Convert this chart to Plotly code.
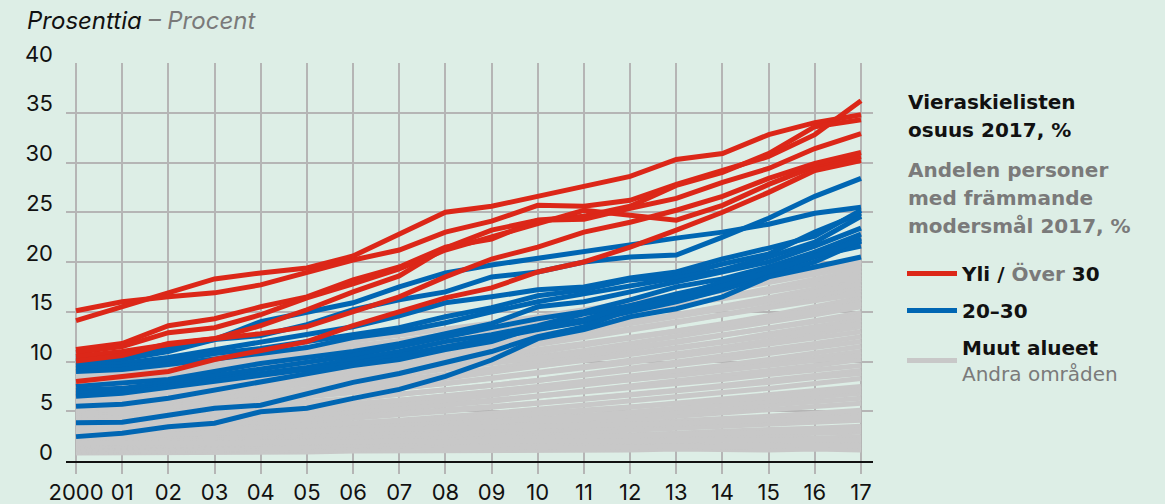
import plotly.graph_objects as go

years = list(range(2000, 2018))
year_labels = ["2000"] + [f"{y % 100:02d}" for y in years[1:]]
y_ticks = [0, 5, 10, 15, 20, 25, 30, 35, 40]

# Over 30 % (red)
red_lines = [
    [14.1, 15.5, 16.9, 18.3, 18.9, 19.4, 20.6, 22.8, 25.0, 25.6, 26.6, 27.7, 28.6, 30.3, 30.9, 32.8, 34.0, 34.8],
    [15.1, 16.0, 16.5, 16.9, 17.7, 19.0, 20.2, 21.2, 23.0, 24.1, 25.7, 25.6, 26.2, 27.8, 29.2, 30.6, 32.8, 36.2],
    [11.2, 11.8, 13.6, 14.3, 15.5, 16.5, 18.2, 19.5, 21.5, 22.3, 24.2, 24.6, 25.6, 27.7, 29.0, 30.9, 33.6, 34.3],
    [10.9, 11.5, 12.9, 13.4, 14.7, 16.4, 17.8, 19.3, 21.2, 22.5, 23.9, 25.2, 24.7, 24.2, 25.7, 27.8, 29.6, 30.6],
    [10.5, 11.0, 11.7, 12.3, 13.6, 15.2, 17.0, 18.6, 21.4, 23.2, 24.2, 24.3, 25.4, 26.4, 28.0, 29.4, 31.4, 32.9],
    [10.05, 10.6, 11.8, 12.3, 12.8, 13.5, 15.0, 16.5, 18.5, 20.3, 21.5, 23.0, 24.0, 25.2, 26.6, 28.4, 29.9, 31.0],
    [8.0, 8.5, 9.0, 10.2, 11.1, 12.0, 13.6, 15.0, 16.4, 17.4, 19.0, 20.0, 21.5, 23.2, 25.0, 27.0, 29.2, 30.2],
]

# 20-30 % (blue)
blue_lines = [
    [10.3, 10.5, 11.4, 12.2, 14.0, 15.0, 15.9, 17.5, 18.9, 19.7, 20.4, 21.0, 21.8, 22.4, 23.0, 23.8, 24.9, 25.5],
    [9.9, 10.2, 11.0, 12.2, 12.6, 13.7, 15.2, 16.2, 17.0, 18.5, 19.0, 20.0, 20.5, 20.7, 22.5, 24.4, 26.6, 28.4],
    [9.6, 9.8, 10.4, 11.2, 12.0, 12.8, 13.5, 14.6, 15.9, 16.5, 17.2, 17.5, 18.4, 19.0, 20.3, 21.4, 22.6, 25.2],
    [9.3, 9.5, 10.0, 10.8, 11.3, 12.0, 12.8, 13.4, 14.5, 15.4, 16.6, 17.2, 18.2, 18.6, 19.8, 20.8, 23.0, 24.9],
    [9.0, 9.2, 9.7, 10.2, 10.8, 11.4, 12.4, 13.0, 13.9, 15.0, 16.0, 16.8, 17.6, 18.3, 19.2, 20.5, 22.0, 24.6],
    [7.5, 7.8, 8.2, 9.0, 9.8, 10.4, 11.0, 11.8, 12.8, 13.8, 15.5, 16.0, 17.0, 18.0, 19.0, 20.0, 21.6, 23.4],
    [7.1, 7.3, 7.9, 8.6, 9.3, 9.9, 10.6, 11.5, 12.5, 13.4, 14.3, 15.0, 16.2, 17.5, 18.3, 19.5, 21.0, 22.8],
    [6.8, 7.0, 7.6, 8.2, 8.9, 9.4, 10.2, 11.0, 12.0, 12.7, 13.6, 14.8, 15.6, 16.8, 17.8, 19.0, 20.5, 22.4],
    [6.5, 6.8, 7.4, 8.0, 8.6, 9.1, 9.8, 10.6, 11.5, 12.3, 13.2, 14.0, 15.0, 16.0, 17.2, 18.6, 20.0, 22.1],
    [5.5, 5.7, 6.3, 7.1, 8.0, 8.8, 9.6, 10.2, 11.2, 12.0, 13.5, 14.2, 15.6, 16.5, 18.0, 19.3, 20.6, 21.6],
    [3.85, 3.9, 4.6, 5.3, 5.6, 6.8, 7.9, 8.8, 9.9, 11.0, 12.5, 13.5, 15.2, 16.3, 17.6, 19.0, 20.6, 22.2],
    [2.45, 2.8, 3.45, 3.8, 4.95, 5.3, 6.3, 7.2, 8.5, 10.15, 12.3, 13.2, 14.5, 15.3, 16.5, 18.5, 19.5, 20.5],
]

# Other areas (grey)
grey_lines = [
    [0.8, 0.8, 0.9, 0.8, 0.9, 0.9, 1.0, 1.0, 1.0, 1.0, 1.1, 1.0, 1.1, 1.2, 1.1, 1.1, 1.2, 1.1],
    [0.9, 1.0, 1.0, 1.1, 1.1, 1.2, 1.2, 1.3, 1.3, 1.4, 1.4, 1.5, 1.5, 1.6, 1.6, 1.7, 1.7, 1.8],
    [1.0, 1.0, 1.1, 1.1, 1.2, 1.1, 1.2, 1.3, 1.2, 1.3, 1.4, 1.3, 1.4, 1.5, 1.4, 1.5, 1.6, 1.5],
    [1.1, 1.1, 1.2, 1.2, 1.3, 1.4, 1.4, 1.5, 1.6, 1.6, 1.8, 1.8, 1.9, 2.0, 2.1, 2.2, 2.3, 2.4],
    [1.2, 1.3, 1.3, 1.4, 1.5, 1.5, 1.6, 1.7, 1.8, 1.9, 2.0, 2.1, 2.3, 2.4, 2.5, 2.6, 2.8, 2.9],
    [1.3, 1.4, 1.4, 1.5, 1.6, 1.7, 1.8, 1.9, 2.0, 2.2, 2.3, 2.5, 2.6, 2.8, 3.0, 3.1, 3.3, 3.5],
    [1.4, 1.5, 1.6, 1.6, 1.8, 1.9, 2.0, 2.2, 2.3, 2.5, 2.7, 2.9, 3.1, 3.3, 3.5, 3.7, 3.9, 4.1],
    [1.5, 1.5, 1.6, 1.7, 1.7, 1.8, 1.9, 2.0, 2.1, 2.2, 2.3, 2.4, 2.5, 2.6, 2.7, 2.9, 3.0, 3.1],
    [1.6, 1.7, 1.8, 1.9, 2.0, 2.1, 2.3, 2.4, 2.6, 2.8, 3.0, 3.2, 3.5, 3.7, 4.0, 4.2, 4.5, 4.8],
    [1.7, 1.8, 1.9, 2.0, 2.1, 2.3, 2.4, 2.6, 2.8, 3.0, 3.3, 3.5, 3.8, 4.0, 4.3, 4.5, 4.8, 5.1],
    [1.9, 2.0, 2.1, 2.2, 2.4, 2.5, 2.7, 2.9, 3.1, 3.4, 3.7, 3.9, 4.2, 4.5, 4.8, 5.1, 5.5, 5.8],
    [2.0, 2.1, 2.2, 2.4, 2.5, 2.7, 2.9, 3.1, 3.4, 3.6, 3.9, 4.2, 4.6, 4.9, 5.2, 5.6, 5.9, 6.3],
    [2.2, 2.3, 2.4, 2.6, 2.7, 2.9, 3.1, 3.4, 3.6, 3.9, 4.2, 4.6, 4.9, 5.3, 5.6, 6.0, 6.4, 6.8],
    [2.4, 2.5, 2.7, 2.8, 3.0, 3.2, 3.4, 3.7, 4.0, 4.3, 4.7, 5.0, 5.4, 5.8, 6.2, 6.6, 7.0, 7.5],
    [2.6, 2.7, 2.9, 3.1, 3.3, 3.5, 3.8, 4.1, 4.4, 4.8, 5.2, 5.6, 6.0, 6.4, 6.9, 7.3, 7.8, 8.3],
    [2.8, 2.9, 3.0, 3.2, 3.4, 3.6, 3.8, 4.0, 4.3, 4.5, 4.8, 5.1, 5.4, 5.8, 6.1, 6.4, 6.8, 7.1],
    [3.0, 3.2, 3.3, 3.5, 3.8, 4.0, 4.3, 4.6, 5.0, 5.4, 5.8, 6.2, 6.7, 7.1, 7.6, 8.1, 8.6, 9.1],
    [3.2, 3.3, 3.5, 3.7, 3.9, 4.2, 4.5, 4.8, 5.1, 5.5, 5.8, 6.2, 6.6, 7.0, 7.5, 7.9, 8.4, 8.8],
    [3.4, 3.6, 3.8, 4.0, 4.3, 4.5, 4.9, 5.2, 5.6, 6.0, 6.5, 7.0, 7.5, 8.0, 8.5, 9.1, 9.6, 10.2],
    [3.6, 3.7, 3.9, 4.1, 4.4, 4.6, 5.0, 5.3, 5.7, 6.1, 6.5, 6.9, 7.3, 7.8, 8.2, 8.7, 9.1, 9.6],
    [3.8, 4.0, 4.2, 4.4, 4.7, 5.0, 5.3, 5.7, 6.1, 6.6, 7.1, 7.6, 8.1, 8.6, 9.2, 9.8, 10.4, 11.0],
    [4.0, 4.2, 4.4, 4.7, 5.0, 5.3, 5.7, 6.1, 6.5, 7.0, 7.5, 8.0, 8.5, 9.1, 9.6, 10.2, 10.9, 11.5],
    [4.2, 4.4, 4.6, 4.8, 5.1, 5.4, 5.7, 6.1, 6.5, 6.9, 7.3, 7.7, 8.2, 8.6, 9.1, 9.6, 10.1, 10.6],
    [4.4, 4.6, 4.9, 5.2, 5.5, 5.8, 6.2, 6.7, 7.1, 7.6, 8.1, 8.7, 9.3, 9.9, 10.5, 11.2, 11.8, 12.5],
    [4.6, 4.8, 5.0, 5.3, 5.6, 5.9, 6.3, 6.7, 7.1, 7.6, 8.1, 8.6, 9.1, 9.7, 10.2, 10.8, 11.4, 12.0],
    [4.8, 5.0, 5.3, 5.6, 6.0, 6.4, 6.8, 7.3, 7.8, 8.3, 8.9, 9.5, 10.1, 10.7, 11.4, 12.1, 12.8, 13.5],
    [5.0, 5.2, 5.5, 5.8, 6.1, 6.5, 6.9, 7.3, 7.8, 8.3, 8.8, 9.3, 9.9, 10.5, 11.1, 11.7, 12.4, 13.0],
    [5.2, 5.5, 5.8, 6.1, 6.5, 6.9, 7.3, 7.8, 8.3, 8.9, 9.5, 10.1, 10.7, 11.4, 12.0, 12.8, 13.5, 14.2],
    [5.4, 5.7, 6.0, 6.3, 6.7, 7.1, 7.6, 8.1, 8.7, 9.3, 9.9, 10.6, 11.2, 11.9, 12.6, 13.4, 14.1, 14.9],
    [5.6, 5.8, 6.1, 6.4, 6.8, 7.1, 7.6, 8.0, 8.5, 9.0, 9.6, 10.1, 10.7, 11.3, 11.9, 12.5, 13.2, 13.8],
    [5.8, 6.1, 6.4, 6.8, 7.2, 7.6, 8.1, 8.6, 9.2, 9.8, 10.4, 11.1, 11.8, 12.5, 13.2, 13.9, 14.7, 15.5],
    [6.0, 6.3, 6.7, 7.1, 7.5, 8.0, 8.5, 9.0, 9.6, 10.2, 10.9, 11.6, 12.3, 13.0, 13.8, 14.6, 15.5, 16.4],
    [6.2, 6.5, 6.8, 7.1, 7.5, 7.9, 8.3, 8.8, 9.3, 9.8, 10.3, 10.9, 11.4, 12.0, 12.7, 13.3, 14.0, 14.6],
    [6.4, 6.7, 7.1, 7.5, 7.9, 8.3, 8.8, 9.3, 9.9, 10.5, 11.1, 11.7, 12.3, 13.0, 13.7, 14.4, 15.2, 16.0],
    [6.6, 7.0, 7.4, 7.8, 8.2, 8.7, 9.2, 9.8, 10.4, 11.0, 11.7, 12.4, 13.1, 13.9, 14.7, 15.5, 16.3, 17.2],
    [6.8, 7.1, 7.4, 7.8, 8.2, 8.6, 9.1, 9.6, 10.1, 10.6, 11.2, 11.8, 12.4, 13.0, 13.7, 14.4, 15.1, 15.8],
    [7.0, 7.4, 7.8, 8.2, 8.7, 9.2, 9.8, 10.4, 11.0, 11.7, 12.4, 13.1, 13.9, 14.7, 15.5, 16.4, 17.3, 18.2],
    [7.2, 7.5, 7.9, 8.3, 8.7, 9.2, 9.7, 10.2, 10.8, 11.4, 12.0, 12.6, 13.3, 14.0, 14.7, 15.4, 16.1, 16.8],
    [7.4, 7.8, 8.2, 8.6, 9.0, 9.5, 10.0, 10.6, 11.2, 11.8, 12.4, 13.1, 13.8, 14.5, 15.2, 16.0, 16.7, 17.5],
    [7.6, 8.0, 8.4, 8.9, 9.4, 9.9, 10.5, 11.1, 11.8, 12.5, 13.2, 13.9, 14.7, 15.5, 16.4, 17.3, 18.2, 19.2],
    [7.8, 8.2, 8.5, 8.9, 9.3, 9.8, 10.3, 10.9, 11.4, 12.0, 12.6, 13.3, 14.0, 14.7, 15.4, 16.2, 17.0, 17.8],
    [8.0, 8.4, 8.8, 9.2, 9.7, 10.2, 10.8, 11.4, 12.0, 12.7, 13.4, 14.1, 14.9, 15.6, 16.4, 17.2, 18.0, 18.8],
    [8.3, 8.7, 9.1, 9.6, 10.1, 10.7, 11.3, 12.0, 12.7, 13.4, 14.1, 14.9, 15.7, 16.5, 17.4, 18.3, 19.2, 20.2],
    [8.6, 9.0, 9.4, 9.9, 10.4, 10.9, 11.5, 12.1, 12.7, 13.4, 14.1, 14.8, 15.6, 16.3, 17.1, 17.9, 18.7, 19.6],
    [8.9, 9.2, 9.6, 10.0, 10.5, 11.0, 11.5, 12.0, 12.6, 13.2, 13.8, 14.4, 15.0, 15.6, 16.3, 17.0, 17.8, 18.5],
    [9.2, 9.6, 10.0, 10.4, 10.9, 11.4, 12.0, 12.6, 13.2, 13.8, 14.5, 15.2, 15.9, 16.6, 17.4, 18.2, 19.1, 20.0],
    [2.5, 2.6, 2.6, 2.7, 2.8, 2.9, 3.0, 3.1, 3.2, 3.3, 3.4, 3.5, 3.7, 3.8, 3.9, 4.1, 4.2, 4.4],
    [1.8, 1.8, 1.9, 1.8, 1.9, 1.9, 1.9, 2.0, 1.9, 2.0, 2.0, 2.0, 2.1, 2.0, 2.1, 2.1, 2.0, 2.1],
]

RED = "#dc2718"
BLUE = "#0066b3"
GREY = "#c8c8c8"
MUTED = "#7a7a7a"
BG = "#ddeee6"
GRID = "#b5b5b5"
FONT = "Inter"
SIDE_FONT = "DejaVu Sans"

groups = [
    (grey_lines, GREY, "g",
     "<b>Muut alueet</b><br><span style='color:%s'>Andra områden</span>" % MUTED, 3),
    (blue_lines, BLUE, "b", "<b>20–30</b>", 2),
    (red_lines, RED, "r",
     "<b>Yli / <span style='color:%s'>Över</span> 30</b>" % MUTED, 1),
]

fig = go.Figure()
for lines, color, gid, name, rank in groups:
    for i, vals in enumerate(lines):
        fig.add_trace(go.Scatter(
            x=years, y=vals, mode="lines",
            line=dict(color=color, width=5),
            name=name, legendgroup=gid, legendrank=rank,
            showlegend=(i == 0), hoverinfo="skip",
        ))

L, R, T, B = 66, 292, 63, 43
PW, PH = 1165 - L - R, 504 - T - B


def px_x(x):
    return (x - L) / PW


def px_y(y):
    return (504 - B - y) / PH


side_lines = [
    ("<b>Vieraskielisten</b>", 102, "#111111"),
    ("<b>osuus 2017, %</b>", 130, "#111111"),
    ("<b>Andelen personer</b>", 170, MUTED),
    ("<b>med främmande</b>", 198, MUTED),
    ("<b>modersmål 2017, %</b>", 226, MUTED),
]
annotations = [
    dict(xref="paper", yref="paper", x=px_x(906), y=px_y(yc),
         xanchor="left", yanchor="middle", align="left", showarrow=False,
         text=txt, font=dict(family=SIDE_FONT, size=20, color=col))
    for txt, yc, col in side_lines
]

fig.update_layout(
    width=1165, height=504,
    margin=dict(l=L, r=R, t=T, b=B, autoexpand=False),
    paper_bgcolor=BG, plot_bgcolor=BG,
    font=dict(family=FONT, size=22, color="#111111"),
    title=dict(
        text="<i>Prosenttia <span style='color:%s'>– Procent</span></i>" % MUTED,
        font=dict(family=FONT, size=24, color="#111111"),
        xref="container", yref="container",
        x=27 / 1165, xanchor="left", y=1 - 21 / 504, yanchor="middle",
        pad=dict(l=0, r=0, t=0, b=0),
    ),
    showlegend=True,
    legend=dict(
        x=px_x(902), xanchor="left",
        y=px_y(254), yanchor="top",
        bgcolor="rgba(0,0,0,0)",
        font=dict(family=SIDE_FONT, size=20, color="#111111"),
        traceorder="grouped", tracegroupgap=8,
        itemwidth=50,
    ),
    annotations=annotations,
)

fig.update_xaxes(
    range=[2000 - 10 / 46.18, 2017 + 12 / 46.18],
    tickvals=years, ticktext=year_labels,
    showgrid=True, gridcolor=GRID, gridwidth=1.5,
    ticks="outside", ticklen=11, tickcolor=GRID, tickwidth=1.5,
    showline=True, linecolor="#111111", linewidth=2,
    zeroline=False, fixedrange=True, automargin=False,
    tickfont=dict(family=FONT, size=22, color="#111111"),
)
fig.update_yaxes(
    range=[0, 40], tickvals=y_ticks,
    showgrid=True, gridcolor=GRID, gridwidth=1.5,
    zeroline=False, showline=False, ticks="",
    ticklabelstandoff=12, ticklabelshift=-9,
    tickfont=dict(family=FONT, size=22, color="#111111"),
    fixedrange=True, automargin=False,
)

fig.write_html("out.html", config={"displayModeBar": False},
               post_script="document.body.style.margin='0px';")
